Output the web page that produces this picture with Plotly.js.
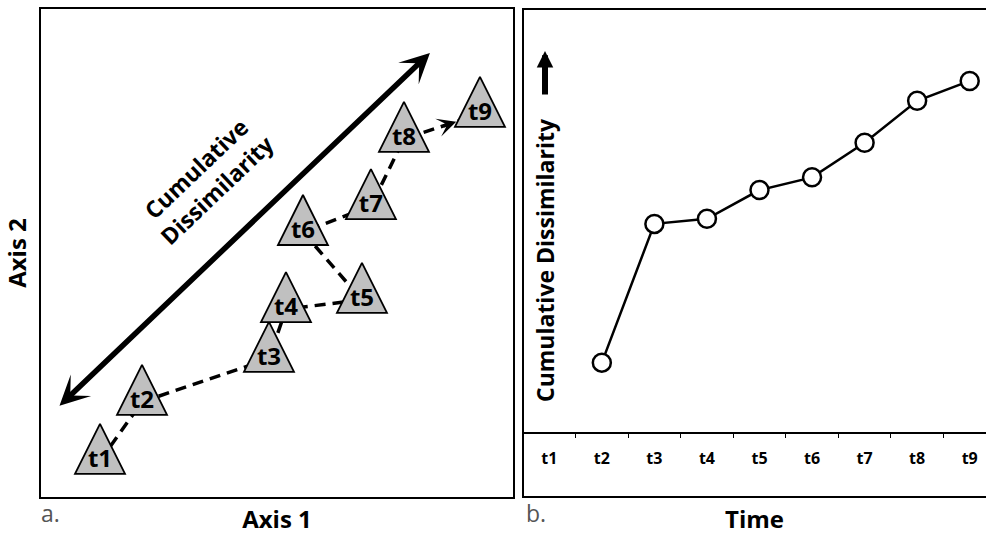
<!DOCTYPE html>
<html>
<head>
<meta charset="utf-8">
<script src="https://cdn.plot.ly/plotly-3.0.1.min.js"></script>
<style>html,body{margin:0;padding:0;background:#fff;}</style>
</head>
<body>
<div id="chart" style="width:986px;height:535px;"></div>
<script>
// ---- data ----
const stages = ['t1', 't2', 't3', 't4', 't5', 't6', 't7', 't8', 't9'];
// ordination positions (panel a), arbitrary units 0-100
const axis1Scores = [12.5, 21.4, 48.3, 51.9, 68.0, 55.5, 69.9, 76.9, 93.0];
const axis2Scores = [7.4, 19.5, 28.3, 38.5, 40.4, 54.3, 59.6, 73.4, 78.5];
// panel b: time categories and cumulative dissimilarity (arbitrary units 0-100)
const timeLabels = ['t1', 't2', 't3', 't4', 't5', 't6', 't7', 't8', 't9'];
const cumDissimilarity = [null, 16.4, 49.2, 50.4, 57.2, 60.2, 68.4, 78.3, 83.0];

const FONT = 'Open Sans, DejaVu Sans, sans-serif';
const W = 986, H = 535;
const px = v => v / W;
const py = v => 1 - v / H;

const traces = [
  { // dashed trajectory
    x: axis1Scores, y: axis2Scores, xaxis: 'x', yaxis: 'y',
    mode: 'lines', line: {color: '#000', width: 3.5, dash: '11px,7px'},
    hoverinfo: 'skip'
  },
  { // triangles (overlay axis shifted so the apex sits above the point)
    x: axis1Scores, y: axis2Scores, xaxis: 'x', yaxis: 'y3',
    mode: 'markers',
    marker: {symbol: 'arrow-up', size: 50, color: '#c0c0c0', line: {color: '#000', width: 1.8}},
    hoverinfo: 'skip'
  },
  { // labels
    x: axis1Scores, y: axis2Scores, xaxis: 'x', yaxis: 'y4',
    mode: 'text', text: stages, textposition: 'middle center',
    textfont: {family: FONT, size: 24, weight: 'bold', color: '#000'},
    hoverinfo: 'skip'
  },
  { // panel b line
    x: timeLabels, y: cumDissimilarity, xaxis: 'x2', yaxis: 'y2',
    mode: 'lines+markers',
    line: {color: '#000', width: 2.5},
    marker: {symbol: 'circle', size: 18, color: '#fff', line: {color: '#000', width: 2.5}},
    hoverinfo: 'skip'
  }
];

const hidden = {visible: false, showgrid: false, zeroline: false, fixedrange: true};
const triShift = 37 / 4.88; // px offset of apex above label point, in y units

const layout = {
  width: W, height: H,
  margin: {l: 0, r: 0, t: 0, b: 0},
  paper_bgcolor: '#fff', plot_bgcolor: 'rgba(0,0,0,0)',
  showlegend: false, hovermode: false,
  font: {family: FONT, color: '#000'},
  xaxis: {
    domain: [px(41), px(513)], range: [0, 100], anchor: 'y',
    showgrid: false, zeroline: false, showticklabels: false, ticks: '',
    showline: true, mirror: true, linecolor: '#000', linewidth: 2,
    title: {text: 'Axis 1', standoff: 15, font: {family: FONT, size: 24, weight: 'bold', color: '#000'}}
  },
  yaxis: {
    domain: [1 - 497 / H, 1 - 9 / H], range: [0, 100], anchor: 'x',
    showgrid: false, zeroline: false, showticklabels: false, ticks: '',
    showline: true, mirror: true, linecolor: '#000', linewidth: 2,
    title: {text: 'Axis 2', standoff: 13, font: {family: FONT, size: 24, weight: 'bold', color: '#000'}}
  },
  yaxis3: Object.assign({}, hidden, {overlaying: 'y', anchor: 'x', range: [-triShift, 100 - triShift]}),
  yaxis4: Object.assign({}, hidden, {overlaying: 'y', anchor: 'x', range: [0, 100]}),
  xaxis2: {
    domain: [px(523), 1], anchor: 'y2', type: 'category',
    categoryorder: 'array', categoryarray: timeLabels,
    range: [-0.5, 8.31],
    showgrid: false, zeroline: false,
    showline: true, linecolor: '#000', linewidth: 1.5,
    ticks: 'outside', ticklen: 4, tickwidth: 1, tickcolor: '#000', tickson: 'boundaries',
    ticklabelstandoff: 11,
    tickfont: {family: FONT, size: 16, weight: 'bold', color: '#000'},
    title: {text: 'Time', standoff: 48, font: {family: FONT, size: 24, weight: 'bold', color: '#000'}}
  },
  yaxis2: {
    domain: [1 - 432 / H, 1 - 9 / H], range: [0, 100], anchor: 'x2',
    showgrid: false, zeroline: false, showticklabels: false, ticks: '', showline: false
  },
  shapes: [
    { // frame of panel b
      type: 'rect', xref: 'paper', yref: 'paper',
      x0: px(523), x1: 1.05, y0: py(497), y1: py(9),
      line: {color: '#000', width: 2}, fillcolor: 'rgba(0,0,0,0)', layer: 'below'
    }
  ],
  annotations: [
    { // double-headed arrow
      xref: 'x', yref: 'y', axref: 'x', ayref: 'y',
      x: 82.4, y: 91.0, ax: 3.6, ay: 18.4, text: '',
      showarrow: true, arrowside: 'end+start',
      arrowhead: 3, startarrowhead: 3, arrowsize: 0.9, startarrowsize: 0.9,
      arrowwidth: 5.5, arrowcolor: '#000'
    },
    {
      xref: 'x', yref: 'y', x: 35.1, y: 65.1,
      text: 'Cumulative<br>Dissimilarity', textangle: -43.6, showarrow: false,
      font: {family: FONT, size: 23, weight: 'bold', color: '#000'}
    },
    { // arrowhead at end of trajectory (t8 -> t9)
      xref: 'x', yref: 'y', x: axis1Scores[8], y: axis2Scores[8],
      ax: -38, ay: 12.5, text: '', showarrow: true,
      arrowhead: 3, arrowsize: 0.9, arrowwidth: 3.5, arrowcolor: '#000', standoff: 25
    },
    { // y title of panel b
      xref: 'paper', yref: 'paper', x: px(545), y: py(260),
      text: 'Cumulative Dissimilarity', textangle: -90, showarrow: false,
      xanchor: 'center', yanchor: 'middle',
      font: {family: FONT, size: 23, weight: 'bold', color: '#000'}
    },
    { // upward arrow above the y title
      xref: 'paper', yref: 'paper', x: px(545), y: py(51),
      ax: 0, ay: 45, text: '', showarrow: true,
      arrowhead: 2, arrowsize: 0.55, arrowwidth: 6, arrowcolor: '#000'
    },
    {
      xref: 'paper', yref: 'paper', x: px(39), y: py(513), xanchor: 'left', yanchor: 'middle',
      text: 'a.', showarrow: false, font: {family: FONT, size: 23, color: '#555'}
    },
    {
      xref: 'paper', yref: 'paper', x: px(524), y: py(513), xanchor: 'left', yanchor: 'middle',
      text: 'b.', showarrow: false, font: {family: FONT, size: 23, color: '#555'}
    }
  ]
};

Plotly.newPlot('chart', traces, layout, {staticPlot: true, displayModeBar: false});
</script>
</body>
</html>
